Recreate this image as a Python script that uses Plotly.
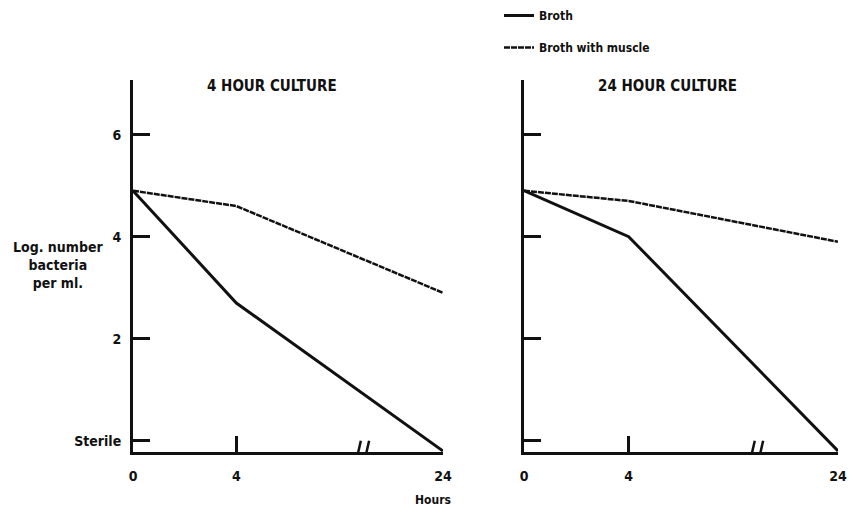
import plotly.graph_objects as go

# ---- data ----
hours = [0, 4, 24]
broth_4h = [4.9, 2.7, -0.2]
muscle_4h = [4.9, 4.6, 2.9]
broth_24h = [4.9, 4.0, -0.2]
muscle_24h = [4.9, 4.7, 3.9]

x_ticks = [0, 4, 24]
x_ticktext = ["0", "4", "24"]
y_ticks = [0, 2, 4, 6]
y_ticktext = ["Sterile", "2", "4", "6"]

panel_titles = ["4 HOUR CULTURE", "24 HOUR CULTURE"]
series_names = ["Broth", "Broth with muscle"]


def pos(h):
    # broken time axis: 0-4 h full scale, 4-24 h compressed
    return h / 4 if h <= 4 else 1 + (h - 4) / 10


FONT = "DejaVu Sans Condensed, Liberation Sans Narrow, Arial Narrow, DejaVu Sans, sans-serif"
INK = "#111111"
OFF = 8                      # page body margin
W, H = 866 - OFF, 523 - OFF


def px(x):
    return (x - OFF) / W


def py(y):
    return 1 - (y - OFF) / H


fig = go.Figure()

xs = [pos(h) for h in hours]
MUSCLE_DASH = "6px,1px"
fig.add_trace(go.Scatter(x=xs, y=broth_4h, mode="lines", name=series_names[0],
                         legendgroup="a", line=dict(color=INK, width=3),
                         xaxis="x", yaxis="y"))
fig.add_trace(go.Scatter(x=xs, y=muscle_4h, mode="lines", name=series_names[1],
                         legendgroup="b", line=dict(color=INK, width=2.5, dash=MUSCLE_DASH),
                         xaxis="x", yaxis="y"))
fig.add_trace(go.Scatter(x=xs, y=broth_24h, mode="lines", showlegend=False,
                         line=dict(color=INK, width=3), xaxis="x2", yaxis="y2"))
fig.add_trace(go.Scatter(x=xs, y=muscle_24h, mode="lines", showlegend=False,
                         line=dict(color=INK, width=2.5, dash=MUSCLE_DASH),
                         xaxis="x2", yaxis="y2"))

ydom = [py(452), py(80)]
yr = [-0.22, 7.07]
xr = [0, pos(24)]

tickfont = dict(family=FONT, size=14, color=INK, weight="bold")
common_x = dict(range=xr, showgrid=False, zeroline=False, showline=True,
                linecolor=INK, linewidth=3, ticks="inside", ticklen=16,
                tickwidth=3, tickcolor=INK, tickvals=[pos(h) for h in x_ticks],
                ticktext=x_ticktext, ticklabelstandoff=9, tickfont=tickfont)
common_y = dict(range=yr, showgrid=False, zeroline=False, showline=True,
                linecolor=INK, linewidth=3, ticks="inside", ticklen=17,
                tickwidth=3, tickcolor=INK, tickvals=y_ticks, domain=ydom,
                tickfont=tickfont)

fig.update_layout(
    width=W, height=H,
    margin=dict(l=0, r=0, t=0, b=0, autoexpand=False),
    paper_bgcolor="white", plot_bgcolor="white",
    xaxis=dict(common_x, domain=[px(133), px(443)], anchor="y"),
    yaxis=dict(common_y, anchor="x", ticktext=y_ticktext, ticklabelstandoff=6),
    xaxis2=dict(common_x, domain=[px(524), px(838)], anchor="y2"),
    yaxis2=dict(common_y, anchor="x2", showticklabels=False),
    legend=dict(x=px(499), y=py(1), xanchor="left", yanchor="top",
                bgcolor="rgba(0,0,0,0)", tracegroupgap=13,
                font=dict(family=FONT, size=12, color=INK, weight="bold")),
)


def label(text, x, y, size):
    fig.add_annotation(text=text, xref="paper", yref="paper", x=px(x), y=py(y),
                       xanchor="center", yanchor="middle", showarrow=False,
                       align="center",
                       font=dict(family=FONT, size=size, color=INK, weight="bold"))


label(panel_titles[0], 272, 86, 15)
label(panel_titles[1], 667, 86, 15)
label("Hours", 433, 500, 12)
label("Log. number<br>bacteria<br>per ml.", 58, 265, 14)

# axis break marks
for xa, ya in (("x", "y"), ("x2", "y2")):
    xb = 2.22
    fig.add_shape(type="rect", xref=xa, yref=ya, x0=xb - 0.04, x1=xb + 0.04,
                  y0=-0.32, y1=-0.12, line=dict(width=0), fillcolor="white", layer="above")
    for dx in (-0.04, 0.04):
        fig.add_shape(type="line", xref=xa, yref=ya, x0=xb + dx - 0.025, x1=xb + dx + 0.025,
                      y0=-0.44, y1=0.0, line=dict(color=INK, width=2.5), layer="above")

fig.write_html("out.html")
